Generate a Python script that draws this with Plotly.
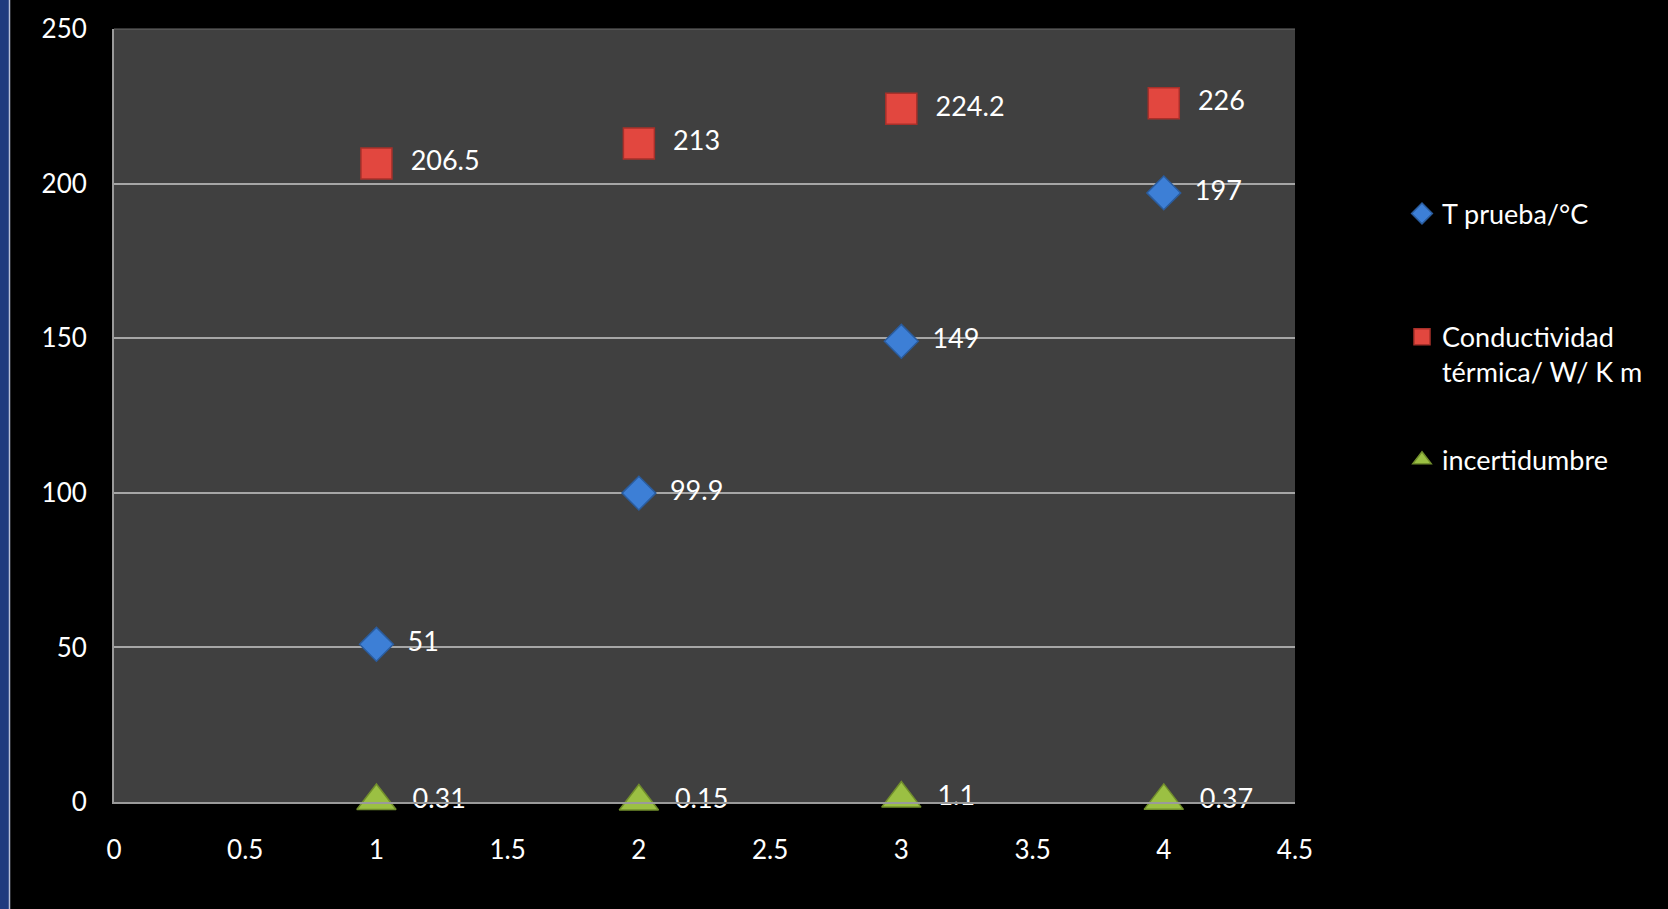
import plotly.graph_objects as go

x_vals = [1, 2, 3, 4]
t_prueba = [51, 99.9, 149, 197]
conductividad = [206.5, 213, 224.2, 226]
incertidumbre = [0.31, 0.15, 1.1, 0.37]
names = ["T prueba/°C<br> ", "Conductividad<br>térmica/ W/ K m", "incertidumbre"]
x_ticks = [0, 0.5, 1, 1.5, 2, 2.5, 3, 3.5, 4, 4.5]
y_ticks = [0, 50, 100, 150, 200, 250]

W, H = 1668, 909
L, R, T, B = 114, 373, 26, 107
pw = W - L - R

FONT = "Lato"
fig = go.Figure()

series = [
    (t_prueba, names[0], "diamond", "#3D7FD6", "#2A5C9E", 26),
    (conductividad, names[1], "square", "#E2473F", "#A8302A", 31),
    (incertidumbre, names[2], "triangle-up", "#9BC043", "#718E2C", 34),
]
for i, (ys, nm, sym, col, lc, sz) in enumerate(series):
    fig.add_trace(go.Scatter(
        x=x_vals, y=ys, name=nm, mode="markers+text",
        text=[f"  {v:g}" for v in ys], textposition="middle right",
        textfont=dict(family=FONT, size=27, color="white"),
        marker=dict(symbol=sym, size=sz, color=col,
                    line=dict(color=lc, width=1.5)),
        legendgroup=f"g{i}", cliponaxis=False,
    ))

fig.update_layout(
    width=W, height=H,
    margin=dict(l=L, r=R, t=T, b=B),
    paper_bgcolor="black", plot_bgcolor="#404040",
    font=dict(family=FONT, color="white", size=26),
    showlegend=True,
    legend=dict(x=(1402 - L) / pw, y=1 - (187 - T) / (H - T - B),
                xanchor="left", yanchor="top",
                bgcolor="rgba(0,0,0,0)", font=dict(family=FONT, size=27, color="white"),
                tracegroupgap=50, valign="top", traceorder="grouped",
                itemsizing="trace"),
    xaxis=dict(range=[0, 4.5], tickvals=x_ticks, ticktext=[f"{v:g}" for v in x_ticks],
               showgrid=False, zeroline=False, showline=True, linecolor="#9A9A9A", linewidth=2,
               ticks="", ticklabelstandoff=24, tickfont=dict(family=FONT, size=26, color="white")),
    yaxis=dict(range=[0, 250], tickvals=y_ticks,
               showgrid=True, gridcolor="#A6A6A6", gridwidth=1.5, zeroline=False,
               showline=True, linecolor="#9A9A9A", linewidth=2,
               ticks="", ticklabelstandoff=20, tickfont=dict(family=FONT, size=26, color="white")),
    shapes=[
        dict(type="rect", xref="paper", yref="paper",
             x0=(0 - L) / pw, x1=(9 - L) / pw, y0=-1, y1=2,
             fillcolor="#1F3A7E", line=dict(width=0), layer="above"),
        dict(type="line", xref="paper", yref="paper",
             x0=(9.5 - L) / pw, x1=(9.5 - L) / pw, y0=-1, y1=2,
             line=dict(color="#B8C0D8", width=1.5), layer="above"),
        dict(type="line", xref="paper", yref="paper", x0=0, x1=1, y0=1, y1=1,
             line=dict(color="#6A6A6A", width=1), layer="below"),
    ],
)

fig.write_html("out.html")
